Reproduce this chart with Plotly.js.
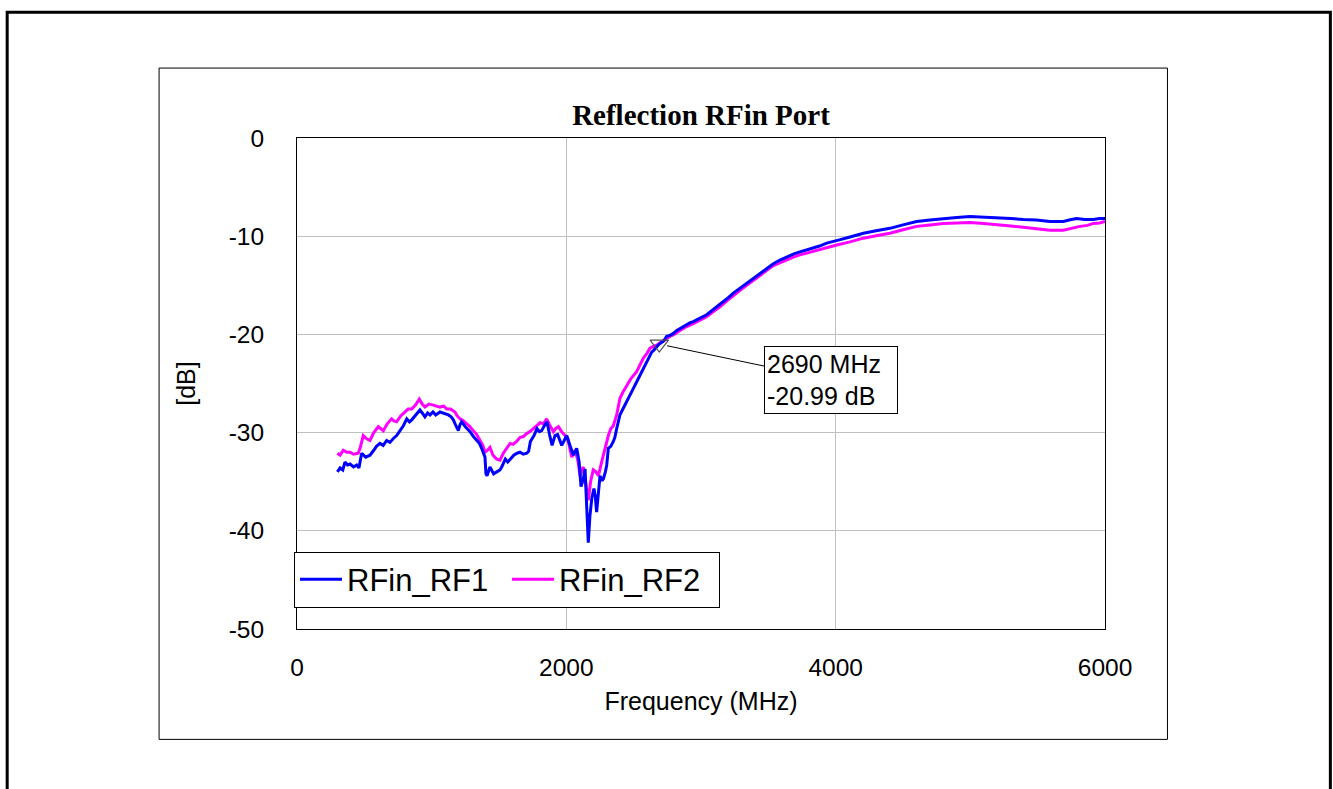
<!DOCTYPE html>
<html>
<head>
<meta charset="utf-8">
<script src="https://cdn.plot.ly/plotly-3.0.1.min.js"></script>
<style>html,body{margin:0;padding:0;background:#fff;}#chart{width:1333px;height:789px;}</style>
</head>
<body>
<div id="chart"></div>
<script>
// RFin_RF1 (blue) frequency [MHz] and reflection [dB]
const rf1Freq = [300,320,340,356,375,394,420,443,460,480,510,542,570,590,616,640,666,690,715,740,765,790,815,835,852,880,913,930,950,970,988,1010,1030,1062,1090,1124,1145,1161,1180,1198,1210,1223,1250,1285,1310,1334,1355,1371,1390,1396,1403,1411,1433,1460,1483,1507,1520,1547,1565,1584,1610,1634,1656,1680,1706,1720,1733,1760,1782,1800,1817,1832,1857,1875,1894,1916,1935,1966,1985,2003,2027,2052,2077,2095,2109,2125,2139,2152,2163,2175,2190,2205,2215,2225,2240,2250,2265,2275,2290,2300,2312,2330,2349,2360,2374,2398,2420,2448,2470,2498,2520,2547,2570,2597,2615,2634,2650,2671,2690,2721,2745,2770,2795,2820,2844,2870,2894,2920,2943,2968,3000,3042,3090,3141,3190,3240,3290,3339,3390,3438,3490,3537,3590,3636,3690,3735,3790,3834,3880,3933,3970,4020,4100,4206,4300,4403,4500,4601,4700,4799,4900,4997,5100,5195,5300,5393,5490,5591,5690,5750,5789,5850,5913,5960,6000];
const rf1Db = [-34.0,-33.6,-33.8,-33.0,-33.3,-33.2,-33.5,-33.3,-33.6,-32.1,-32.5,-32.3,-31.8,-31.4,-31.1,-31.3,-30.8,-31.0,-30.6,-30.3,-29.8,-29.3,-28.6,-28.9,-28.7,-28.2,-27.7,-28.0,-28.4,-28.0,-28.2,-27.9,-28.2,-27.9,-28.0,-28.2,-28.4,-28.7,-29.3,-29.8,-29.2,-28.9,-29.4,-29.9,-30.4,-30.8,-31.1,-31.6,-32.2,-32.5,-34.2,-34.4,-33.5,-34.2,-34.0,-33.8,-33.5,-32.7,-33.0,-32.7,-32.3,-32.1,-32.0,-32.2,-32.1,-31.9,-30.9,-30.3,-29.6,-29.9,-29.8,-29.4,-28.9,-30.2,-31.3,-30.3,-30.2,-31.3,-30.8,-30.3,-31.3,-32.3,-31.6,-33.0,-35.5,-34.8,-33.7,-37.0,-41.2,-38.5,-36.6,-35.7,-36.5,-38.1,-35.6,-34.4,-34.9,-34.7,-34.0,-33.3,-31.6,-31.4,-30.9,-30.5,-29.6,-28.2,-27.6,-26.9,-26.2,-25.5,-24.9,-24.2,-23.5,-22.8,-22.3,-21.8,-21.6,-21.3,-20.99,-20.7,-20.2,-20.1,-19.9,-19.6,-19.4,-19.2,-19.0,-18.8,-18.7,-18.5,-18.3,-18.0,-17.5,-17.0,-16.4,-15.8,-15.3,-14.8,-14.3,-13.8,-13.3,-12.8,-12.4,-12.1,-11.8,-11.6,-11.4,-11.2,-11.0,-10.7,-10.6,-10.4,-10.1,-9.7,-9.45,-9.2,-8.85,-8.5,-8.35,-8.2,-8.1,-8.0,-8.05,-8.1,-8.2,-8.3,-8.35,-8.5,-8.5,-8.3,-8.2,-8.3,-8.3,-8.2,-8.2];

// RFin_RF2 (magenta) frequency [MHz] and reflection [dB]
const rf2Freq = [300,320,344,370,394,420,455,470,492,515,542,570,604,620,641,670,703,720,740,770,802,825,852,880,908,930,950,980,1012,1040,1062,1090,1112,1140,1173,1190,1210,1235,1260,1285,1309,1335,1359,1380,1396,1415,1433,1455,1483,1507,1532,1557,1582,1605,1631,1655,1681,1705,1730,1755,1780,1805,1830,1854,1875,1904,1920,1941,1965,1990,2010,2040,2065,2085,2102,2115,2126,2145,2163,2180,2200,2220,2238,2262,2287,2312,2330,2349,2374,2398,2420,2448,2480,2522,2550,2572,2600,2621,2650,2671,2700,2730,2770,2800,2844,2894,2943,3000,3042,3090,3141,3190,3240,3290,3339,3390,3438,3490,3537,3590,3636,3690,3735,3790,3834,3880,3933,3970,4008,4100,4206,4300,4403,4500,4601,4700,4799,4900,4997,5100,5195,5300,5393,5490,5591,5690,5750,5814,5870,5913,5960,6000];
const rf2Db = [-32.1,-32.3,-31.8,-32.0,-32.0,-32.2,-32.1,-31.5,-30.3,-30.6,-30.8,-30.0,-29.4,-29.6,-29.8,-29.1,-28.6,-28.8,-28.9,-28.3,-27.9,-27.6,-27.6,-27.2,-26.6,-27.1,-27.4,-27.1,-27.2,-27.3,-27.4,-27.3,-27.6,-27.6,-27.9,-28.3,-28.6,-28.8,-29.1,-29.4,-29.8,-30.2,-30.8,-31.3,-32.0,-31.8,-31.5,-32.3,-32.7,-32.8,-32.1,-31.6,-31.1,-31.2,-30.9,-30.5,-30.4,-30.1,-29.9,-29.6,-29.3,-29.0,-29.1,-28.6,-29.2,-29.9,-29.6,-29.4,-29.9,-30.3,-30.6,-32.5,-31.8,-32.8,-34.4,-33.8,-33.5,-35.2,-36.9,-35.0,-33.8,-34.0,-34.4,-33.0,-31.6,-30.3,-29.6,-29.3,-28.2,-26.5,-25.9,-25.2,-24.5,-23.8,-23.1,-22.4,-21.9,-21.4,-21.2,-21.1,-20.8,-20.6,-20.2,-20.0,-19.6,-19.2,-18.9,-18.5,-18.2,-17.7,-17.2,-16.6,-16.0,-15.5,-15.0,-14.5,-14.0,-13.5,-13.0,-12.7,-12.4,-12.1,-11.9,-11.7,-11.5,-11.3,-11.1,-11.0,-10.9,-10.6,-10.2,-9.95,-9.7,-9.35,-9.0,-8.85,-8.7,-8.65,-8.6,-8.7,-8.8,-8.95,-9.1,-9.25,-9.4,-9.4,-9.2,-9.0,-8.9,-8.7,-8.65,-8.5];

// Marker annotation
const markerFreq = [2690];
const markerDb = [-20.99];
const markerText = "2690 MHz<br>-20.99 dB";

// Axis ticks
const xTicks = [0, 2000, 4000, 6000];
const yTicks = [0, -10, -20, -30, -40, -50];

const SANS = "Liberation Sans, Arial, sans-serif";

const traces = [
  {x: rf2Freq, y: rf2Db, type: 'scatter', mode: 'lines', name: 'RFin_RF2',
   line: {color: '#FF00FF', width: 3}, legendrank: 2},
  {x: rf1Freq, y: rf1Db, type: 'scatter', mode: 'lines', name: 'RFin_RF1',
   line: {color: '#0000FF', width: 3}, legendrank: 1},
  {x: markerFreq, y: markerDb, type: 'scatter', mode: 'markers', showlegend: false,
   marker: {symbol: 'triangle-down-open', size: 16, color: '#505050', line: {width: 1.2, color: '#505050'}}}
];

// pixel -> paper helpers for frame shapes
const PL = 297, PR = 1105.5, PT = 138, PB = 629.5;
const px = v => (v - PL) / (PR - PL);
const py = v => (PB - v) / (PB - PT);

const layout = {
  width: 1333, height: 789,
  margin: {l: PL, r: 1333 - PR, t: PT, b: 789 - PB, pad: 0},
  paper_bgcolor: '#ffffff', plot_bgcolor: '#ffffff',
  font: {family: SANS, color: '#000000', size: 24.5},
  title: {text: 'Reflection RFin Port', font: {family: 'Liberation Serif, Times New Roman, serif', size: 29, weight: 'bold', color: '#000'},
          x: 0.5, xref: 'paper', xanchor: 'center', y: 1 - 115/789, yref: 'container', yanchor: 'middle'},
  xaxis: {range: [0, 6000], tickvals: xTicks, ticktext: xTicks.map(String), showgrid: true, gridcolor: '#c0c0c0', gridwidth: 1,
          zeroline: false, showline: true, linecolor: '#000', linewidth: 1, mirror: true, ticks: '', ticklabelstandoff: 17,
          tickfont: {family: SANS, size: 24.5, color: '#000'},
          title: {text: 'Frequency (MHz)', font: {family: SANS, size: 25, color: '#000'}, standoff: 12}},
  yaxis: {range: [-50, 0], tickvals: yTicks, ticktext: yTicks.map(String), showgrid: true, gridcolor: '#c0c0c0', gridwidth: 1,
          zeroline: false, showline: true, linecolor: '#000', linewidth: 1, mirror: true, ticks: '', ticklabelstandoff: 27,
          tickfont: {family: SANS, size: 24.5, color: '#000'},
          title: {text: '[dB]', font: {family: SANS, size: 25, color: '#000'}, standoff: 25}},
  showlegend: true,
  legend: {orientation: 'h', x: px(294), y: py(552), xanchor: 'left', yanchor: 'top',
           bgcolor: '#ffffff', bordercolor: '#000', borderwidth: 1, itemwidth: 42, entrywidth: 155,
           font: {family: SANS, size: 31, color: '#000'}, traceorder: 'normal'},
  annotations: [{
    x: markerFreq[0], y: markerDb[0], xref: 'x', yref: 'y', text: markerText,
    showarrow: true, arrowhead: 0, arrowwidth: 1, arrowcolor: '#000', standoff: 8,
    ax: 172, ay: 36, axref: 'pixel', ayref: 'pixel',
    align: 'left', width: 128, height: 62, bgcolor: '#fff', bordercolor: '#000', borderwidth: 1, borderpad: 2,
    font: {family: SANS, size: 25, color: '#000'}
  }],
  shapes: [
    {type: 'rect', xref: 'paper', yref: 'paper', x0: px(7), x1: px(1331), y0: py(820), y1: py(12), line: {color: '#000', width: 3}, fillcolor: 'rgba(0,0,0,0)'},
    {type: 'rect', xref: 'paper', yref: 'paper', x0: px(159), x1: px(1168), y0: py(740), y1: py(68), line: {color: '#000', width: 1}, fillcolor: 'rgba(0,0,0,0)'}
  ]
};

Plotly.newPlot('chart', traces, layout, {staticPlot: true, displayModeBar: false});
</script>
</body>
</html>
